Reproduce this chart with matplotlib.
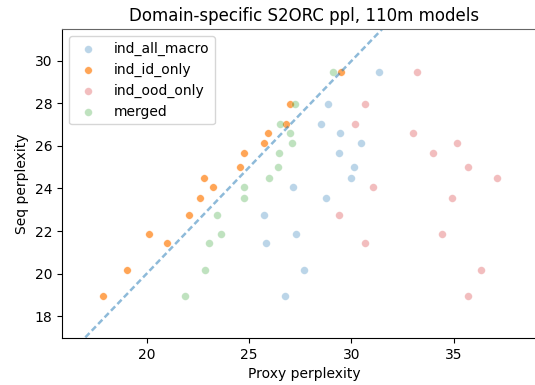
import matplotlib
matplotlib.use("Agg")
import matplotlib.pyplot as plt

# Seq perplexity per domain (shared by all four model variants)
seq_ppl = [29.50, 27.96, 27.02, 26.61, 26.12, 25.66, 24.99, 24.50,
           24.09, 23.55, 22.76, 21.84, 21.46, 20.15, 18.95]

# Proxy perplexity per domain for each variant
ind_all_macro = [31.36, 28.84, 28.50, 29.46, 30.44, 29.38, 30.13, 29.97,
                 27.15, 28.77, 25.75, 27.28, 25.84, 27.67, 26.77]
ind_id_only = [29.51, 27.00, 26.82, 25.91, 25.75, 24.75, 24.57, 22.80,
               23.24, 22.62, 22.08, 20.11, 20.99, 19.02, 17.87]
ind_ood_only = [33.20, 30.68, 30.18, 32.98, 35.13, 33.99, 35.68, 37.13,
                31.06, 34.91, 29.38, 34.44, 30.68, 36.33, 35.68]
merged = [29.09, 27.23, 26.53, 27.00, 27.11, 26.45, 26.41, 25.99,
          24.75, 24.75, 23.42, 23.61, 23.04, 22.83, 21.89]

series = [
    ("ind_all_macro", ind_all_macro, "tab:blue", 0.3),
    ("ind_id_only", ind_id_only, "tab:orange", 0.7),
    ("ind_ood_only", ind_ood_only, "tab:red", 0.3),
    ("merged", merged, "tab:green", 0.3),
]

fig = plt.figure(figsize=(5.35, 3.85), dpi=100)
ax = fig.add_axes([62 / 535, 47 / 385, 484 / 535, 309 / 385])

for name, xs, color, alpha in series:
    ax.scatter(xs, seq_ppl, s=30, color=color, alpha=alpha,
               edgecolors="white", linewidths=0.4, label=name)

# identity line
ax.plot([17, 32], [17, 32], color="tab:blue", alpha=0.5,
        linewidth=1.8, dashes=(2.4, 1.3))

ax.set_xlim(15.86, 39.5)
ax.set_ylim(16.97, 31.5)
ax.set_xticks([20, 25, 30, 35])
ax.set_yticks([18, 20, 22, 24, 26, 28, 30])
ax.spines["right"].set_visible(False)
ax.spines["top"].set_color("0.4")

ax.set_xlabel("Proxy perplexity")
ax.set_ylabel("Seq perplexity")
ax.set_title("Domain-specific S2ORC ppl, 110m models")
ax.legend(loc="upper left")

fig.savefig("out.png", dpi=100)
